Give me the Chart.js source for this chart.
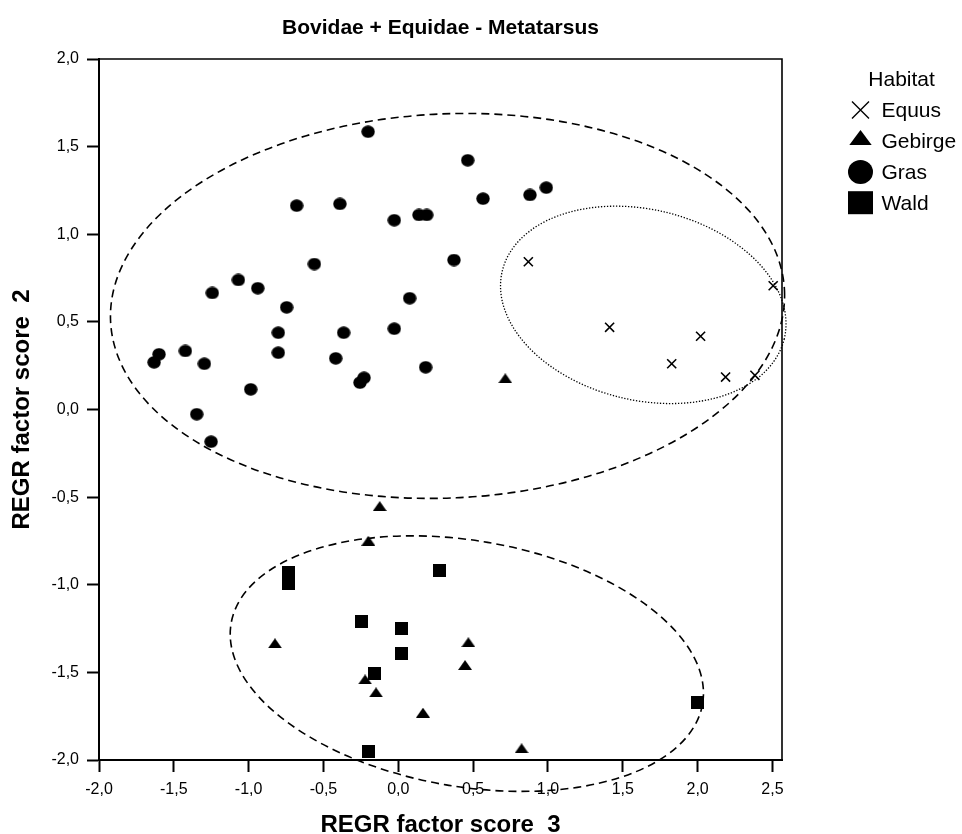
<!DOCTYPE html>
<html>
<head>
<meta charset="utf-8">
<script src="https://cdn.jsdelivr.net/npm/chart.js@4/dist/chart.umd.min.js"></script>
<style>
  html, body { margin: 0; padding: 0; background: #ffffff; }
  #wrap { width: 962px; height: 834px; }
</style>
</head>
<body>
<div id="wrap"><canvas id="chart" width="962" height="834"></canvas></div>
<script>
// ---- chart data -------------------------------------------------------
const chartTitle = 'Bovidae + Equidae - Metatarsus';
const xAxisTitle = 'REGR factor score  3';
const yAxisTitle = 'REGR factor score  2';
const xTickValues = [-2.0, -1.5, -1.0, -0.5, 0.0, 0.5, 1.0, 1.5, 2.0, 2.5];
const yTickValues = [-2.0, -1.5, -1.0, -0.5, 0.0, 0.5, 1.0, 1.5, 2.0];
const xRange = [-2.0, 2.564];
const yRange = [-2.0, 2.0];
const legendTitle = 'Habitat';
const habitatNames = ['Equus', 'Gebirge', 'Gras', 'Wald'];

// Equus (horses)
const equusX = [0.869, 1.412, 2.020, 1.827, 2.187, 2.383, 2.505];
const equusY = [0.843, 0.469, 0.418, 0.261, 0.185, 0.195, 0.706];

// Gebirge (mountain bovids)
const gebirgeX = [0.715, -0.124, -0.200, -0.824, -0.222, -0.149, 0.468, 0.446, 0.165, 0.824];
const gebirgeY = [0.178, -0.551, -0.749, -1.334, -1.540, -1.614, -1.328, -1.458, -1.730, -1.933];

// Gras (grassland bovids)
const grasX = [-0.202, 0.464, -0.679, -0.390, -0.027, 0.138, 0.190, 0.566, 0.880, 0.989,
               0.372, -0.561, -1.069, -0.939, -1.243, -0.746, 0.076, -0.802, -0.365, -0.027,
               -0.418, -0.802, -1.423, -1.599, -1.632, -1.296, -0.986, -1.347, -1.251, -0.256,
               -0.229, 0.183];
const grasY = [1.585, 1.422, 1.163, 1.173, 1.080, 1.110, 1.110, 1.203, 1.224, 1.266,
               0.853, 0.830, 0.739, 0.692, 0.665, 0.583, 0.635, 0.438, 0.438, 0.461,
               0.292, 0.324, 0.334, 0.315, 0.269, 0.261, 0.115, -0.027, -0.184, 0.153,
               0.181, 0.241];

// Wald (forest bovids)
const waldX = [-0.735, -0.735, 0.274, -0.245, 0.023, 0.023, -0.160, -0.196, 2.000];
const waldY = [-0.929, -0.992, -0.920, -1.207, -1.249, -1.395, -1.509, -1.953, -1.673];

// group outlines: [centre x, centre y, half-width (x units), half-height (y units), tilt in degrees]
const grasOutline  = [0.329, 0.591, 2.254, 1.096, -2.6];
const equusOutline = [1.637, 0.597, 0.969, 0.544, 13.5];
const waldOutline  = [0.458, -1.450, 1.598, 0.702, 9.7];

// ---- helpers ----------------------------------------------------------
const FONT = '"Liberation Sans", Arial, Helvetica, sans-serif';
const toPoints = (xs, ys) => xs.map((v, i) => ({ x: v, y: ys[i] }));
const decimalComma = v => Number(v).toFixed(1).replace('.', ',');

function makeMarker(w, h, paint) {
  const c = document.createElement('canvas');
  c.width = w; c.height = h;
  const g = c.getContext('2d');
  g.fillStyle = '#000';
  paint(g, w, h);
  return c;
}
const triangleMark = makeMarker(14, 10, (g, w, h) => {
  g.beginPath(); g.moveTo(w / 2, 0); g.lineTo(w, h); g.lineTo(0, h); g.closePath(); g.fill();
});
const dotMark = makeMarker(14, 13, (g, w, h) => {
  g.beginPath(); g.ellipse(w / 2, h / 2, w / 2 - 0.3, h / 2 - 0.3, 0, 0, Math.PI * 2); g.fill();
});
const squareMark = makeMarker(13, 13, (g, w, h) => g.fillRect(0, 0, w, h));

// ---- plugins ----------------------------------------------------------
// closes the plot frame on the top and right sides
const frameSides = {
  id: 'frameSides',
  beforeDatasetsDraw(chart) {
    const { ctx, chartArea: a } = chart;
    ctx.save();
    ctx.strokeStyle = '#000';
    ctx.lineWidth = 1.6;
    ctx.beginPath();
    ctx.moveTo(a.left, a.top);
    ctx.lineTo(a.right, a.top);
    ctx.lineTo(a.right, a.bottom);
    ctx.stroke();
    ctx.restore();
  }
};

// ellipses drawn around the habitat groups
const groupOutlines = {
  id: 'groupOutlines',
  afterDatasetsDraw(chart) {
    const { ctx, scales: { x, y } } = chart;
    const items = [
      { e: grasOutline,  dash: [8, 5], width: 1.6 },
      { e: equusOutline, dash: [1.3, 1.7], width: 1.3 },
      { e: waldOutline,  dash: [8, 5], width: 1.6 }
    ];
    items.forEach(({ e, dash, width }) => {
      const cx = x.getPixelForValue(e[0]);
      const cy = y.getPixelForValue(e[1]);
      const rx = Math.abs(x.getPixelForValue(e[0] + e[2]) - cx);
      const ry = Math.abs(cy - y.getPixelForValue(e[1] + e[3]));
      ctx.save();
      ctx.strokeStyle = '#000';
      ctx.lineWidth = width;
      ctx.setLineDash(dash);
      ctx.beginPath();
      ctx.ellipse(cx, cy, rx, ry, e[4] * Math.PI / 180, 0, Math.PI * 2);
      ctx.stroke();
      ctx.restore();
    });
  }
};

// legend to the right of the plot
const habitatLegend = {
  id: 'habitatLegend',
  afterDraw(chart) {
    const { ctx, chartArea: a } = chart;
    const mx = a.right + 78.5;
    const tx = a.right + 99.5;
    ctx.save();
    ctx.fillStyle = '#000';
    ctx.strokeStyle = '#000';
    ctx.font = '21px ' + FONT;
    ctx.textAlign = 'left';
    ctx.textBaseline = 'alphabetic';
    ctx.fillText(legendTitle, a.right + 86.3, 85.7);

    const baselines = [117.3, 148.2, 179.2, 210.2];
    const painters = [
      (cy) => {
        ctx.lineWidth = 1.4;
        ctx.beginPath();
        ctx.moveTo(mx - 8.5, cy - 8.5); ctx.lineTo(mx + 8.5, cy + 8.5);
        ctx.moveTo(mx + 8.5, cy - 8.5); ctx.lineTo(mx - 8.5, cy + 8.5);
        ctx.stroke();
      },
      (cy) => {
        ctx.beginPath();
        ctx.moveTo(mx, cy - 7.5); ctx.lineTo(mx + 11.2, cy + 7.5); ctx.lineTo(mx - 11.2, cy + 7.5);
        ctx.closePath(); ctx.fill();
      },
      (cy) => {
        ctx.beginPath(); ctx.ellipse(mx, cy, 12.5, 12, 0, 0, Math.PI * 2); ctx.fill();
      },
      (cy) => { ctx.fillRect(mx - 12.5, cy - 11.5, 25, 23); }
    ];
    const centres = [110, 137.5, 172, 202.7];
    habitatNames.forEach((name, i) => {
      painters[i](centres[i]);
      ctx.fillText(name, tx, baselines[i]);
    });
    ctx.restore();
  }
};

// ---- chart ------------------------------------------------------------
const axisCommon = {
  type: 'linear',
  border: { display: true, color: '#000', width: 2 },
  grid: { display: true, drawOnChartArea: false, drawTicks: true, tickLength: 12, tickColor: '#000', tickWidth: 2 },
};

new Chart(document.getElementById('chart'), {
  type: 'scatter',
  data: {
    datasets: [
      { label: habitatNames[0], data: toPoints(equusX, equusY), pointStyle: 'crossRot', pointRadius: 6.4,
        pointBorderColor: '#000', pointBackgroundColor: '#000', pointBorderWidth: 1.6, clip: false },
      { label: habitatNames[1], data: toPoints(gebirgeX, gebirgeY), pointStyle: triangleMark, pointRadius: 7,
        pointBorderWidth: 0, pointBackgroundColor: '#000', clip: false },
      { label: habitatNames[2], data: toPoints(grasX, grasY), pointStyle: dotMark, pointRadius: 7,
        pointBorderWidth: 0, pointBackgroundColor: '#000', clip: false },
      { label: habitatNames[3], data: toPoints(waldX, waldY), pointStyle: squareMark, pointRadius: 7,
        pointBorderWidth: 0, pointBackgroundColor: '#000', clip: false }
    ]
  },
  options: {
    responsive: false,
    animation: false,
    events: [],
    layout: { autoPadding: false, padding: { left: 0, right: 180, top: 0, bottom: 0 } },
    plugins: {
      legend: { display: false },
      tooltip: { enabled: false },
      title: {
        display: true, text: chartTitle, fullSize: false, color: '#000',
        font: { family: FONT, size: 21, weight: 'bold', lineHeight: 1.2 },
        padding: { top: 15.4, bottom: 18.4 }
      }
    },
    scales: {
      x: Object.assign({}, axisCommon, {
        position: 'bottom',
        min: xRange[0], max: xRange[1],
        afterBuildTicks: s => { s.ticks = xTickValues.map(v => ({ value: v })); },
        afterFit: s => { s.height = 74; s.paddingLeft = 0; s.paddingRight = 0; },
        ticks: { color: '#000', font: { family: FONT, size: 16 }, padding: 8, autoSkip: false,
                 maxRotation: 0, callback: v => decimalComma(v) },
        title: { display: true, text: xAxisTitle, color: '#000',
                 font: { family: FONT, size: 24, weight: 'bold', lineHeight: 1 },
                 padding: { top: 0, bottom: -3.4 } }
      }),
      y: Object.assign({}, axisCommon, {
        position: 'left',
        min: yRange[0], max: yRange[1],
        afterBuildTicks: s => { s.ticks = yTickValues.map(v => ({ value: v })); },
        afterFit: s => { s.width = 99; s.paddingTop = 0; s.paddingBottom = 0; },
        ticks: { color: '#000', font: { family: FONT, size: 16 }, padding: 8,
                 callback: v => decimalComma(v) },
        title: { display: true, text: yAxisTitle, color: '#000',
                 font: { family: FONT, size: 24, weight: 'bold', lineHeight: 1 },
                 padding: { top: 10.5, bottom: 0 } }
      })
    }
  },
  plugins: [frameSides, groupOutlines, habitatLegend]
});
</script>
</body>
</html>
